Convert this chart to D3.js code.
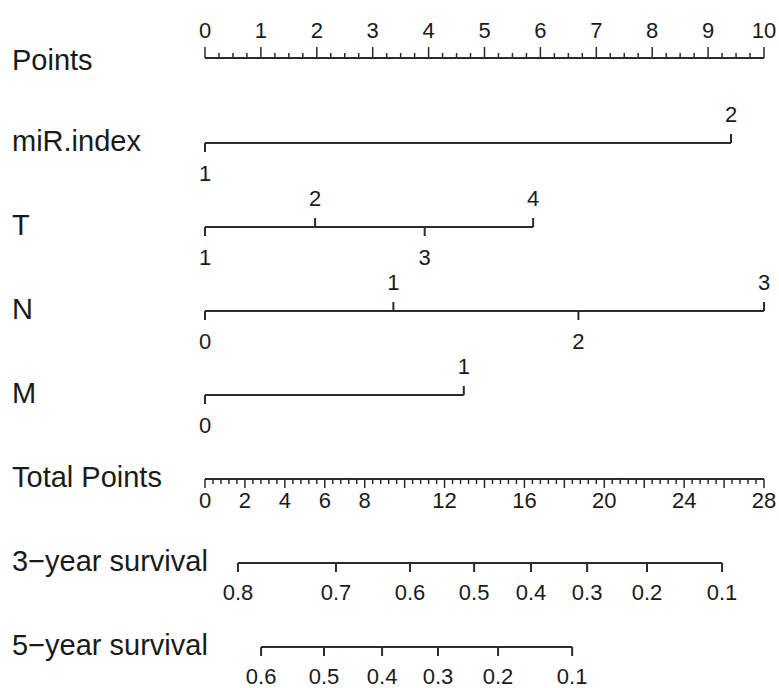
<!DOCTYPE html>
<html>
<head>
<meta charset="utf-8">
<script src="https://cdn.jsdelivr.net/npm/d3@7"></script>
<style>
  body { margin: 0; background: #fff; }
  svg text { font-family: "Liberation Sans", Arial, sans-serif; fill: #1a1a1a; }
</style>
</head>
<body>
<div id="chart"></div>
<script>
const width = 779;
const height = 688;

// row names, top to bottom
const rowNames = ["Points", "miR.index", "T", "N", "M", "Total Points", "3\u2212year survival", "5\u2212year survival"];

// predictor levels and their points (0-10 scale)
const miRLevels = ["1", "2"];
const miRPoints = [0, 9.41];
const tLevels = ["1", "2", "3", "4"];
const tPoints = [0, 1.97, 3.93, 5.87];
const nLevels = ["0", "1", "2", "3"];
const nPoints = [0, 3.37, 6.68, 10];
const mLevels = ["0", "1"];
const mPoints = [0, 4.63];

// total points axis labels
const totalLabels = [0, 2, 4, 6, 8, 12, 16, 20, 24, 28];

// survival probabilities and where they fall on the total points scale
const surv3Labels = ["0.8", "0.7", "0.6", "0.5", "0.4", "0.3", "0.2", "0.1"];
const surv3Total = [1.65, 6.56, 10.27, 13.48, 16.33, 19.14, 22.14, 25.9];
const surv5Labels = ["0.6", "0.5", "0.4", "0.3", "0.2", "0.1"];
const surv5Total = [2.81, 5.96, 8.87, 11.67, 14.68, 18.39];

const left = 205, right = 764;
const rowY = [58, 143, 227, 311, 395, 479, 563, 647];
const lineColor = "#2b2b2b";
const tickFont = 22;

const xPts = d3.scaleLinear().domain([0, 10]).range([left, right]);
const xTot = d3.scaleLinear().domain([0, 28]).range([left, right]);

const svg = d3.select("#chart").append("svg")
  .attr("width", width)
  .attr("height", height);

// row labels
svg.append("g")
  .selectAll("text")
  .data(rowNames)
  .join("text")
    .attr("x", 12)
    .attr("y", (d, i) => rowY[i] + (i == 0 ? 2 : -2))
    .attr("dominant-baseline", "central")
    .attr("font-size", 29)
    .text(d => d);

// Points axis, ticks up
const gp = svg.append("g");
gp.append("line")
  .attr("x1", xPts(0)).attr("x2", xPts(10))
  .attr("y1", rowY[0]).attr("y2", rowY[0])
  .attr("stroke", lineColor).attr("stroke-width", 2);
gp.selectAll(".minor")
  .data(d3.range(0, 40.5).map(i => i / 4))
  .join("line")
    .attr("x1", d => xPts(d)).attr("x2", d => xPts(d))
    .attr("y1", rowY[0])
    .attr("y2", d => Math.abs(d - Math.round(d)) < 1e-6 ? rowY[0] - 11 : rowY[0] - 5)
    .attr("stroke", lineColor).attr("stroke-width", 1.5);
gp.selectAll("text")
  .data(d3.range(0, 11))
  .join("text")
    .attr("x", d => xPts(d))
    .attr("y", rowY[0] - 20)
    .attr("text-anchor", "middle")
    .attr("font-size", tickFont)
    .text(d => d);

// predictor rows
function drawPredictor(levels, pts, y) {
  const g = svg.append("g");
  g.append("line")
    .attr("x1", xPts(d3.min(pts))).attr("x2", xPts(d3.max(pts)))
    .attr("y1", y).attr("y2", y)
    .attr("stroke", lineColor).attr("stroke-width", 2);
  g.selectAll("line.tk")
    .data(pts)
    .join("line")
      .attr("class", "tk")
      .attr("x1", d => xPts(d)).attr("x2", d => xPts(d))
      .attr("y1", y)
      .attr("y2", (d, i) => i % 2 == 0 ? y + 9 : y - 9)
      .attr("stroke", lineColor).attr("stroke-width", 2);
  g.selectAll("text")
    .data(levels)
    .join("text")
      .attr("x", (d, i) => xPts(pts[i]))
      .attr("y", (d, i) => i % 2 == 0 ? y + 38 : y - 21)
      .attr("text-anchor", "middle")
      .attr("font-size", tickFont)
      .text(d => d);
}
drawPredictor(miRLevels, miRPoints, rowY[1]);
drawPredictor(tLevels, tPoints, rowY[2]);
drawPredictor(nLevels, nPoints, rowY[3]);
drawPredictor(mLevels, mPoints, rowY[4]);

// Total Points axis, ticks down
const gt = svg.append("g");
gt.append("line")
  .attr("x1", xTot(0)).attr("x2", xTot(28))
  .attr("y1", rowY[5]).attr("y2", rowY[5])
  .attr("stroke", lineColor).attr("stroke-width", 2);
gt.selectAll(".tk")
  .data(d3.range(0, 70.5).map(i => i * 0.4))
  .join("line")
    .attr("x1", d => xTot(d)).attr("x2", d => xTot(d))
    .attr("y1", rowY[5])
    .attr("y2", (d, i) => i % 5 == 0 ? rowY[5] + 9 : rowY[5] + 5)
    .attr("stroke", lineColor).attr("stroke-width", 1.5);
gt.selectAll("text")
  .data(totalLabels)
  .join("text")
    .attr("x", d => xTot(d))
    .attr("y", rowY[5] + 29)
    .attr("text-anchor", "middle")
    .attr("font-size", tickFont)
    .text(d => d);

// survival rows
function drawSurv(labels, tot, y) {
  const g = svg.append("g");
  g.append("line")
    .attr("x1", xTot(d3.min(tot))).attr("x2", xTot(d3.max(tot)))
    .attr("y1", y).attr("y2", y)
    .attr("stroke", lineColor).attr("stroke-width", 2);
  g.selectAll("line.tk")
    .data(tot)
    .join("line")
      .attr("class", "tk")
      .attr("x1", d => xTot(d)).attr("x2", d => xTot(d))
      .attr("y1", y).attr("y2", y + 9)
      .attr("stroke", lineColor).attr("stroke-width", 2);
  g.selectAll("text")
    .data(labels)
    .join("text")
      .attr("x", (d, i) => xTot(tot[i]))
      .attr("y", y + 37)
      .attr("text-anchor", "middle")
      .attr("font-size", tickFont)
      .text(d => d);
}
drawSurv(surv3Labels, surv3Total, rowY[6]);
drawSurv(surv5Labels, surv5Total, rowY[7]);
</script>
</body>
</html>
